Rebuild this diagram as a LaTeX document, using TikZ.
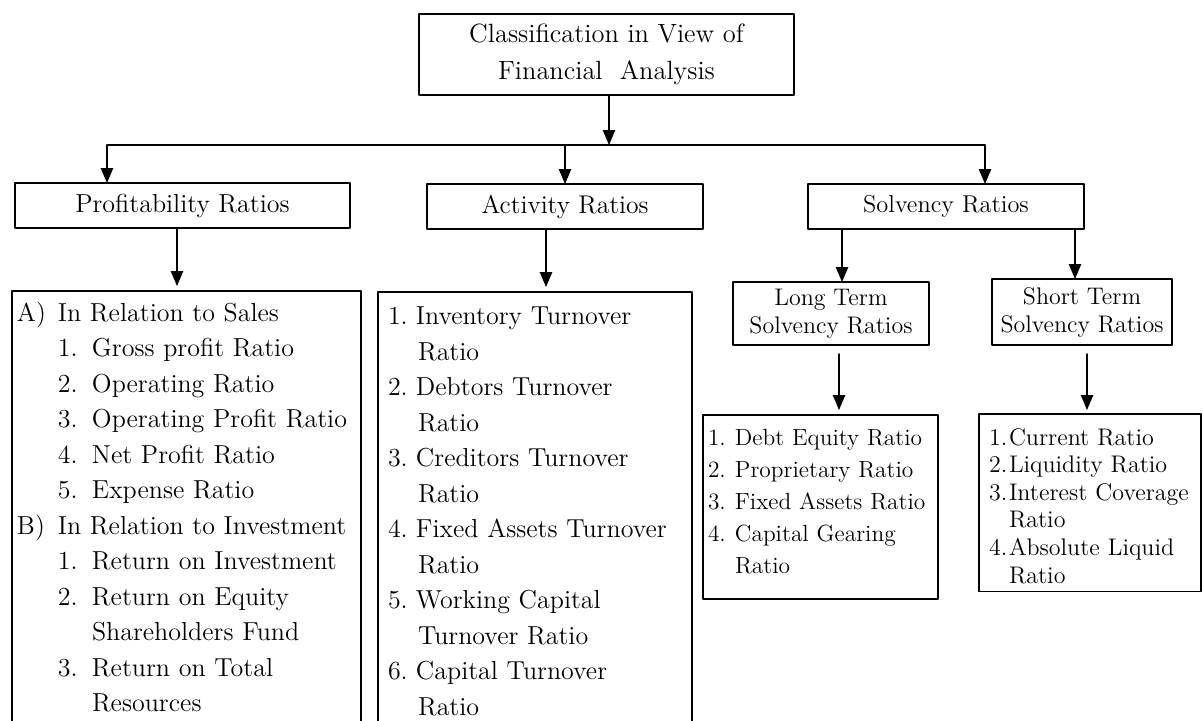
\documentclass[tikz,border=0pt]{standalone}
\usepackage{tikz}
\usetikzlibrary{arrows}

\tikzset{
  box/.style={draw, rectangle, outer sep=0pt, inner sep=0pt, align=center, anchor=north west},
  listbox/.style={draw, rectangle, outer sep=0pt, anchor=north west, align=left},
}
\newcommand{\entry}[4][0pt]{\mbox{\hspace*{#1}\makebox[#2][l]{#3}#4}}

\begin{document}
\begin{tikzpicture}[line cap=round,line join=round,>=triangle 45,x=0.5pt,y=-0.5pt,line width=0.7pt]
\useasboundingbox (0,0) rectangle (1202,720);
\clip (0,0) rectangle (1202,720);
% top
\node[box, minimum width=187.5pt, minimum height=40.5pt, font=\fontsize{13.2}{18.5}\selectfont] (top) at (419,14) {Classification in View of\\Financial~~Analysis};
% second row
\node[box, minimum width=167.5pt, minimum height=22.5pt, font=\fontsize{13}{16}\selectfont] (prof) at (15,183) {Profitability Ratios};
\node[box, minimum width=138pt, minimum height=22.5pt, font=\fontsize{12.8}{16}\selectfont] (act) at (427,184) {Activity Ratios};
\node[box, minimum width=138pt, minimum height=22.5pt, font=\fontsize{12.2}{15}\selectfont] (solv) at (808,184) {Solvency Ratios};
\node[box, minimum width=98pt, minimum height=31.5pt, font=\fontsize{12}{14}\selectfont] (lterm) at (733,282) {Long Term\\Solvency Ratios};
\node[box, minimum width=90pt, minimum height=33pt, font=\fontsize{12}{14}\selectfont] (sterm) at (992,279) {Short Term\\Solvency Ratios};
% lists
\node[listbox, text width=169.5pt, inner xsep=2.5pt, inner ysep=5.25pt, font=\fontsize{13}{17.75}\selectfont] (plist) at (12,291) {%
\entry{20.5pt}{A)}{In Relation to Sales}\\
\entry[20.5pt]{17pt}{1.}{Gross profit Ratio}\\
\entry[20.5pt]{17pt}{2.}{Operating Ratio}\\
\entry[20.5pt]{17pt}{3.}{Operating Profit Ratio}\\
\entry[20.5pt]{17pt}{4.}{Net Profit Ratio}\\
\entry[20.5pt]{17pt}{5.}{Expense Ratio}\\
\entry{20.5pt}{B)}{In Relation to Investment}\\
\entry[20.5pt]{17pt}{1.}{Return on Investment}\\
\entry[20.5pt]{17pt}{2.}{Return on Equity}\\
\hspace*{37.5pt}Shareholders Fund\\
\entry[20.5pt]{17pt}{3.}{Return on Total}\\
\hspace*{37.5pt}Resources\rule[-14pt]{0pt}{1pt}};
\node[listbox, text width=147pt, inner xsep=5pt, inner ysep=7.6pt, font=\fontsize{13}{17.75}\selectfont] (alist) at (378,292) {%
\entry{14pt}{1.}{Inventory Turnover}\\
\hspace*{15pt}Ratio\\
\entry{14pt}{2.}{Debtors Turnover}\\
\hspace*{15pt}Ratio\\
\entry{14pt}{3.}{Creditors Turnover}\\
\hspace*{15pt}Ratio\\
\entry{14pt}{4.}{Fixed Assets Turnover}\\
\hspace*{15pt}Ratio\\
\entry{14pt}{5.}{Working Capital}\\
\hspace*{15pt}Turnover Ratio\\
\entry{14pt}{6.}{Capital Turnover}\\
\hspace*{15pt}Ratio\rule[-14pt]{0pt}{1pt}};
\node[listbox, text width=112.5pt, inner xsep=2.5pt, inner ysep=6.9pt, font=\fontsize{11.7}{16}\selectfont] (llist) at (703,415) {%
\entry{13.5pt}{1.}{Debt Equity Ratio}\\
\entry{13.5pt}{2.}{Proprietary Ratio}\\
\entry{13.5pt}{3.}{Fixed Assets Ratio}\\
\entry{13.5pt}{4.}{Capital Gearing}\\
\hspace*{13.5pt}Ratio\rule[-6pt]{0pt}{1pt}};
\node[listbox, text width=101pt, inner xsep=5pt, inner ysep=4pt, font=\fontsize{12}{13.8}\selectfont] (slist) at (979,414) {%
\rule{0pt}{11.5pt}\entry{10pt}{1.}{Current Ratio}\\
\entry{10pt}{2.}{Liquidity Ratio}\\
\entry{10pt}{3.}{Interest Coverage}\\
\hspace*{10pt}Ratio\\
\entry{10pt}{4.}{Absolute Liquid}\\
\hspace*{10pt}Ratio};
% connectors
\coordinate (barL) at (107,145);
\coordinate (barR) at (985,145);
\draw (barL) -- (barR);
\draw[->] ([xshift=1.25pt]top.south) -- ([xshift=1.25pt]top.south |- barL);
\draw[->] (barL) -- (barL |- prof.north);
\draw[->] (act.north |- barL) -- (act.north);
\draw[->] (barR) -- (barR |- solv.north);
\draw[->, shorten >=2.5pt] ([xshift=-2.75pt]prof.south) -- ([xshift=-2.75pt]prof.south |- plist.north);
\draw[->, shorten >=2.5pt] ([xshift=-9.5pt]act.south) -- ([xshift=-9.5pt]act.south |- alist.north);
\draw[->] ([xshift=5.5pt]lterm.north |- solv.south) -- ([xshift=5.5pt]lterm.north);
\draw[->] ([xshift=-3.5pt]sterm.north |- solv.south) -- ([xshift=-3.5pt]sterm.north);
\draw[->, shorten <=4.5pt, shorten >=2.5pt] ([xshift=4pt]lterm.south) -- ([xshift=4pt]lterm.south |- llist.north);
\draw[->, shorten <=4.5pt, shorten >=2pt] ([xshift=2.5pt]sterm.south) -- ([xshift=2.5pt]sterm.south |- slist.north);
\end{tikzpicture}
\end{document}
